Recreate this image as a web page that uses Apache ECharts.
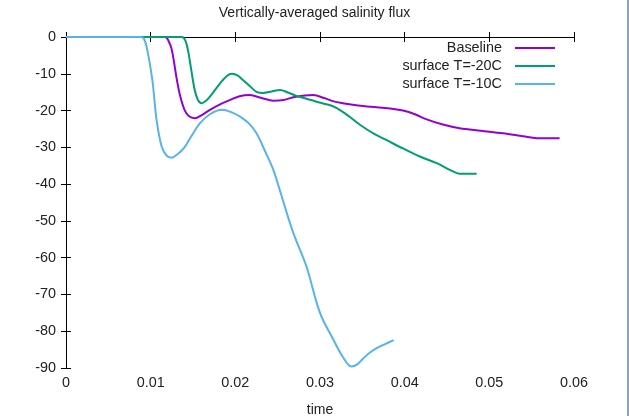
<!DOCTYPE html>
<html><head><meta charset="utf-8">
<script src="https://cdn.jsdelivr.net/npm/echarts@6/dist/echarts.min.js"></script>
<style>html,body{margin:0;padding:0;background:#fff}#c{width:629px;height:416px}</style>
</head><body><div id="c"></div>
<script>
const titleText = 'Vertically-averaged salinity flux';
const xName = 'time';
const seriesNames = ['Baseline', 'surface T=-20C', 'surface T=-10C'];
const seriesColors = ['#9400d3', '#009e73', '#56b4e9'];
const xTicks = [0, 0.01, 0.02, 0.03, 0.04, 0.05, 0.06];
const yTicks = [0, -10, -20, -30, -40, -50, -60, -70, -80, -90];

const baseline = [[0,0],[0.0117,0],[0.0121,-1],[0.0125,-3.5],[0.0131,-11.7],[0.0135,-16.2],[0.0140,-19.8],[0.0145,-21.5],[0.0152,-22.1],[0.0160,-21.3],[0.0170,-19.8],[0.0182,-18.3],[0.0194,-17.1],[0.0205,-16.1],[0.0217,-15.8],[0.0231,-16.6],[0.0245,-17.3],[0.0257,-17.1],[0.0270,-16.3],[0.0282,-15.9],[0.0292,-15.8],[0.0305,-16.6],[0.0316,-17.5],[0.0327,-18],[0.0345,-18.6],[0.0367,-19.1],[0.0385,-19.5],[0.0398,-20],[0.0412,-21],[0.0426,-22.4],[0.0445,-23.8],[0.0465,-24.8],[0.0490,-25.5],[0.0516,-26.2],[0.0540,-27],[0.0556,-27.5],[0.0583,-27.5]];
const surfM20 = [[0,0],[0.0137,0],[0.0141,-1],[0.0144,-3.5],[0.0148,-9],[0.0152,-14.4],[0.0156,-17.2],[0.0160,-18],[0.0165,-17.4],[0.0170,-16.2],[0.0182,-12.6],[0.0190,-10.6],[0.0196,-10],[0.0203,-10.5],[0.0209,-11.7],[0.0217,-13.3],[0.0225,-14.9],[0.0233,-15.2],[0.0243,-14.8],[0.0253,-14.4],[0.0262,-15.1],[0.0272,-16],[0.0284,-16.8],[0.0296,-17.6],[0.0306,-18.2],[0.0316,-18.9],[0.0326,-20.2],[0.0335,-21.7],[0.0348,-24],[0.0363,-26.2],[0.0380,-28.2],[0.0398,-30.3],[0.0418,-32.5],[0.0438,-34.3],[0.0454,-36.2],[0.0465,-37.2],[0.0485,-37.2]];
const surfM10 = [[0,0],[0.0088,0],[0.0092,-0.5],[0.0096,-3.5],[0.0102,-11.7],[0.0107,-22.6],[0.0113,-29.8],[0.0119,-32.3],[0.0125,-32.8],[0.0132,-31.8],[0.0139,-30.3],[0.0148,-27],[0.0158,-23.5],[0.0170,-21],[0.0184,-19.8],[0.0196,-20.5],[0.0206,-21.7],[0.0216,-23.5],[0.0225,-26.2],[0.0235,-31],[0.0245,-36.2],[0.0253,-42],[0.0268,-53],[0.0284,-62.4],[0.0300,-75],[0.0316,-82.4],[0.0327,-87],[0.0337,-89.6],[0.0344,-89],[0.0351,-87.4],[0.0359,-85.8],[0.0367,-84.6],[0.0377,-83.5],[0.0387,-82.4]];
const seriesData = [baseline, surfM20, surfM10];

const FONT = 'Liberation Sans, Arial, sans-serif';
const axisLine = {show: true, lineStyle: {color: '#000', width: 1}};
const chart = echarts.init(document.getElementById('c'));
const xCommon = {type: 'value', min: 0, max: 0.06, interval: 0.01, splitLine: {show: false},
  axisLine: axisLine, axisTick: {show: true, inside: true, length: 5, lineStyle: {color: '#000'}}};
const yCommon = {type: 'value', min: -90, max: 0, interval: 10, splitLine: {show: false},
  axisLine: axisLine, axisTick: {show: true, inside: true, length: 5, lineStyle: {color: '#000'}}};

chart.setOption({
  animation: false,
  backgroundColor: '#fff',
  title: {text: titleText, left: 'center', top: 1,
    textStyle: {fontFamily: FONT, fontSize: 14, fontWeight: 'normal', color: '#222'}},
  grid: {left: 66, right: 55, top: 37, bottom: 48, containLabel: false, outerBoundsMode: 'none'},
  legend: seriesNames.map((n, i) => ({
    data: [n], right: 74, top: 41 + i * 18, orient: 'horizontal', align: 'right',
    icon: 'rect', itemWidth: 40, itemHeight: 2, itemGap: 10, padding: 0,
    textStyle: {fontFamily: FONT, fontSize: 14.4, color: '#222', padding: [0, 8, 0, 0]}
  })),
  xAxis: [
    Object.assign({}, xCommon, {position: 'bottom', name: xName, nameLocation: 'middle', nameGap: 35,
      nameTextStyle: {fontFamily: FONT, fontSize: 14, color: '#222'},
      axisLabel: {fontFamily: FONT, fontSize: 14.4, color: '#222', margin: 8,
        formatter: v => xTicks.includes(+v.toFixed(2)) ? String(+v.toFixed(2)) : ''}}),
    Object.assign({}, xCommon, {position: 'top', axisLabel: {show: false}})
  ],
  yAxis: [
    Object.assign({}, yCommon, {position: 'left',
      axisLabel: {fontFamily: FONT, fontSize: 14.4, color: '#222', margin: 10,
        formatter: v => yTicks.includes(Math.round(v)) ? String(Math.round(v)) : ''}}),
    Object.assign({}, yCommon, {position: 'right', axisLabel: {show: false}})
  ],
  series: seriesData.map((d, i) => ({
    name: seriesNames[i], type: 'line', data: d, xAxisIndex: 0, yAxisIndex: 0,
    showSymbol: false, symbol: 'none', smooth: 0.35,
    lineStyle: {color: seriesColors[i], width: 2}, itemStyle: {color: seriesColors[i]}
  })),
  graphic: [{type: 'rect', shape: {x: 627, y: 0, width: 2, height: 416},
    style: {fill: '#8fa3bd'}, silent: true}]
});
</script></body></html>
